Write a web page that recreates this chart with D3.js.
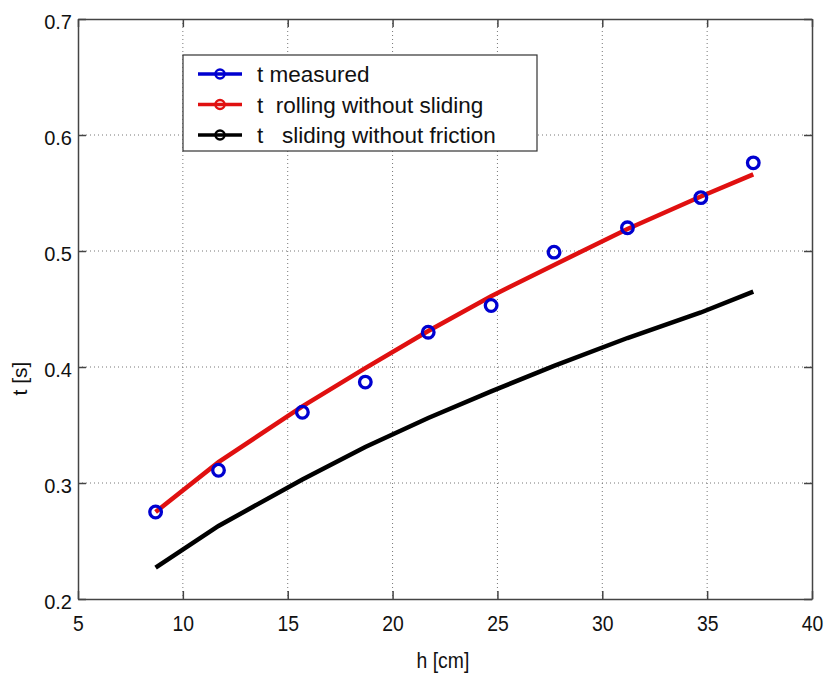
<!DOCTYPE html>
<html>
<head>
<meta charset="utf-8">
<script src="https://cdn.jsdelivr.net/npm/d3@7"></script>
<style>
  body { margin: 0; background: #fff; }
  text { font-family: "Liberation Sans", Arial, sans-serif; fill: #111; }
</style>
</head>
<body>
<div id="chart"></div>
<script>
// heights h [cm]
const heights = [8.7, 11.7, 15.7, 18.7, 21.7, 24.7, 27.7, 31.2, 34.7, 37.2];
// times t [s]
const tMeasured = [0.275, 0.311, 0.361, 0.387, 0.430, 0.453, 0.499, 0.520, 0.546, 0.576];
const tRolling  = [0.275, 0.318, 0.366, 0.399, 0.431, 0.461, 0.488, 0.519, 0.547, 0.566];
const tSliding  = [0.227, 0.263, 0.303, 0.331, 0.356, 0.379, 0.401, 0.425, 0.447, 0.465];
const xTicks = [5, 10, 15, 20, 25, 30, 35, 40];
const yTicks = [0.2, 0.3, 0.4, 0.5, 0.6, 0.7];
const legendLabels = ["t measured", "t  rolling without sliding", "t   sliding without friction"];

const width = 826, height = 675;
const margin = { top: 19, right: 14, bottom: 76, left: 78 };
const innerW = width - margin.left - margin.right;
const innerH = height - margin.top - margin.bottom;

const svg = d3.select("#chart").append("svg")
  .attr("width", width)
  .attr("height", height);

const g = svg.append("g")
  .attr("transform", `translate(${margin.left},${margin.top})`);

const x = d3.scaleLinear().domain([5, 40]).range([0, innerW]);
const y = d3.scaleLinear().domain([0.2, 0.7]).range([innerH, 0]);

// dotted grid
g.append("g").selectAll("line")
  .data(xTicks.slice(1, -1))
  .join("line")
  .attr("x1", d => x(d)).attr("x2", d => x(d))
  .attr("y1", 0).attr("y2", innerH)
  .attr("stroke", "#777").attr("stroke-width", 1)
  .attr("stroke-dasharray", "1,3");

g.append("g").selectAll("line")
  .data(yTicks.slice(1, -1))
  .join("line")
  .attr("y1", d => y(d)).attr("y2", d => y(d))
  .attr("x1", 0).attr("x2", innerW)
  .attr("stroke", "#777").attr("stroke-width", 1)
  .attr("stroke-dasharray", "1,3");

// axes: ticks point inward, on all four sides
const tickLen = 8;
const bottomAxis = g.append("g")
  .attr("transform", `translate(0,${innerH})`)
  .call(d3.axisBottom(x).tickValues(xTicks).tickSizeInner(-tickLen).tickSizeOuter(0).tickPadding(16));
const topAxis = g.append("g")
  .call(d3.axisTop(x).tickValues(xTicks).tickSizeInner(-tickLen).tickSizeOuter(0).tickFormat(""));
const leftAxis = g.append("g")
  .call(d3.axisLeft(y).tickValues(yTicks).tickSizeInner(-tickLen).tickSizeOuter(0).tickPadding(6).tickFormat(d3.format(".1f")));
const rightAxis = g.append("g")
  .attr("transform", `translate(${innerW},0)`)
  .call(d3.axisRight(y).tickValues(yTicks).tickSizeInner(-tickLen).tickSizeOuter(0).tickFormat(""));

[bottomAxis, topAxis, leftAxis, rightAxis].forEach(a => {
  a.select(".domain").attr("stroke", "#444").attr("stroke-width", 1.5);
  a.selectAll(".tick line").attr("stroke", "#444").attr("stroke-width", 1.5);
  a.selectAll("text").attr("fill", "#111");
});

// slightly narrow look for the x labels
bottomAxis.selectAll("text")
  .style("font-size", "22px")
  .attr("transform", "scale(0.88,1)");
leftAxis.selectAll("text")
  .style("font-size", "20px")
  .attr("dy", "0.45em");

// axis titles
svg.append("text")
  .attr("transform", `translate(${margin.left + x(22.4)},668) scale(0.88,1)`)
  .attr("text-anchor", "middle")
  .style("font-size", "22px")
  .text("h [cm]");

svg.append("text")
  .attr("transform", `translate(27,${margin.top + y(0.39)}) rotate(-90)`)
  .attr("text-anchor", "middle")
  .style("font-size", "21px")
  .text("t [s]");

// series lines
const line = (vals) => d3.line()
  .x((d, i) => x(heights[i]))
  .y(d => y(d))(vals);

g.append("path")
  .attr("d", line(tSliding))
  .attr("fill", "none")
  .attr("stroke", "#000")
  .attr("stroke-width", 4.5);

g.append("path")
  .attr("d", line(tRolling))
  .attr("fill", "none")
  .attr("stroke", "#e01010")
  .attr("stroke-width", 4.5);

g.append("g").selectAll("circle")
  .data(tMeasured)
  .join("circle")
  .attr("cx", (d, i) => x(heights[i]))
  .attr("cy", d => y(d))
  .attr("r", 5.8)
  .attr("fill", "none")
  .attr("stroke", "#0000d0")
  .attr("stroke-width", 3.3);

// legend
const legend = svg.append("g").attr("transform", "translate(183,55)");
legend.append("rect")
  .attr("width", 354).attr("height", 96)
  .attr("fill", "#fff")
  .attr("stroke", "#333").attr("stroke-width", 1.2);

const legendColors = ["#0000d0", "#e01010", "#000"];
legendLabels.forEach((label, i) => {
  const yy = 19 + i * 30.5;
  const row = legend.append("g").attr("transform", `translate(0,${yy})`);
  row.append("line")
    .attr("x1", 15).attr("x2", 59)
    .attr("stroke", legendColors[i]).attr("stroke-width", 3.5);
  row.append("circle")
    .attr("cx", 37).attr("r", 4.5)
    .attr("fill", "none")
    .attr("stroke", legendColors[i]).attr("stroke-width", 2.5);
  row.append("text")
    .attr("x", 74).attr("dy", "0.36em")
    .style("font-size", "22.5px")
    .style("white-space", "pre")
    .text(label);
});
</script>
</body>
</html>
